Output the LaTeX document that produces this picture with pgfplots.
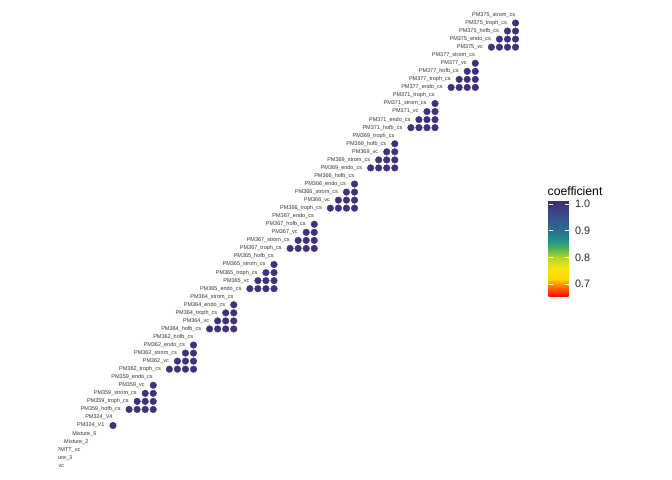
\documentclass[border=0pt]{standalone}
\usepackage{pgfplots}
\pgfplotsset{compat=1.18}
\usepackage{pgfplotstable}
\usepackage{fontspec}
\setmainfont{Liberation Sans}

\pgfplotstableread{
x y label
57 57 PM375\_strom\_cs
56 56 PM375\_troph\_cs
55 55 PM375\_hofb\_cs
54 54 PM375\_endo\_cs
53 53 PM375\_vc
52 52 PM377\_strom\_cs
51 51 PM377\_vc
50 50 PM377\_hofb\_cs
49 49 PM377\_troph\_cs
48 48 PM377\_endo\_cs
47 47 PM371\_troph\_cs
46 46 PM371\_strom\_cs
45 45 PM371\_vc
44 44 PM371\_endo\_cs
43 43 PM371\_hofb\_cs
42 42 PM369\_troph\_cs
41 41 PM369\_hofb\_cs
40 40 PM369\_vc
39 39 PM369\_strom\_cs
38 38 PM369\_endo\_cs
37 37 PM366\_hofb\_cs
36 36 PM366\_endo\_cs
35 35 PM366\_strom\_cs
34 34 PM366\_vc
33 33 PM366\_troph\_cs
32 32 PM367\_endo\_cs
31 31 PM367\_hofb\_cs
30 30 PM367\_vc
29 29 PM367\_strom\_cs
28 28 PM367\_troph\_cs
27 27 PM365\_hofb\_cs
26 26 PM365\_strom\_cs
25 25 PM365\_troph\_cs
24 24 PM365\_vc
23 23 PM365\_endo\_cs
22 22 PM364\_strom\_cs
21 21 PM364\_endo\_cs
20 20 PM364\_troph\_cs
19 19 PM364\_vc
18 18 PM364\_hofb\_cs
17 17 PM362\_hofb\_cs
16 16 PM362\_endo\_cs
15 15 PM362\_strom\_cs
14 14 PM362\_vc
13 13 PM362\_troph\_cs
12 12 PM359\_endo\_cs
11 11 PM359\_vc
10 10 PM359\_strom\_cs
9 9 PM359\_troph\_cs
8 8 PM359\_hofb\_cs
7 7 PM324\_V4
6 6 PM324\_V1
5 5 Mixture\_5
4 4 Mixture\_2
3 3 PMTT\_vc
2 2 Mixture\_3
1 1 vc
}\labels

\pgfplotstableread{
x y c
54 53 1.00
55 53 1.00
56 53 1.00
57 53 1.00
55 54 1.00
56 54 1.00
57 54 1.00
56 55 1.00
57 55 1.00
57 56 1.00
49 48 1.00
50 48 1.00
51 48 1.00
52 48 1.00
50 49 1.00
51 49 1.00
52 49 1.00
51 50 1.00
52 50 1.00
52 51 1.00
44 43 1.00
45 43 1.00
46 43 1.00
47 43 1.00
45 44 1.00
46 44 1.00
47 44 1.00
46 45 1.00
47 45 1.00
47 46 1.00
39 38 1.00
40 38 1.00
41 38 1.00
42 38 1.00
40 39 1.00
41 39 1.00
42 39 1.00
41 40 1.00
42 40 1.00
42 41 1.00
34 33 1.00
35 33 1.00
36 33 1.00
37 33 1.00
35 34 1.00
36 34 1.00
37 34 1.00
36 35 1.00
37 35 1.00
37 36 1.00
29 28 1.00
30 28 1.00
31 28 1.00
32 28 1.00
30 29 1.00
31 29 1.00
32 29 1.00
31 30 1.00
32 30 1.00
32 31 1.00
24 23 1.00
25 23 1.00
26 23 1.00
27 23 1.00
25 24 1.00
26 24 1.00
27 24 1.00
26 25 1.00
27 25 1.00
27 26 1.00
19 18 1.00
20 18 1.00
21 18 1.00
22 18 1.00
20 19 1.00
21 19 1.00
22 19 1.00
21 20 1.00
22 20 1.00
22 21 1.00
14 13 1.00
15 13 1.00
16 13 1.00
17 13 1.00
15 14 1.00
16 14 1.00
17 14 1.00
16 15 1.00
17 15 1.00
17 16 1.00
9 8 1.00
10 8 1.00
11 8 1.00
12 8 1.00
10 9 1.00
11 9 1.00
12 9 1.00
11 10 1.00
12 10 1.00
12 11 1.00
7 6 1.00
}\dots

\begin{document}
\begin{tikzpicture}
\useasboundingbox (-58bp,-5bp) rectangle (614bp,475bp);
\begin{scope}
\clip (0bp,-5bp) rectangle (614bp,475bp);
\begin{axis}[
  at={(0,0)}, anchor=south west,
  scale only axis,
  width=482bp, height=470bp,
  xmin=0.168, xmax=60.04,
  ymin=-0.143, ymax=58.24,
  hide axis,
  colormap={coef}{
    rgb255(0pt)=(255,0,0);
    rgb255(24pt)=(255,70,0);
    rgb255(49pt)=(255,150,0);
    rgb255(69pt)=(255,215,0);
    rgb255(109pt)=(245,230,15);
    rgb255(149pt)=(180,212,45);
    rgb255(179pt)=(85,185,85);
    rgb255(209pt)=(35,150,135);
    rgb255(249pt)=(40,112,142);
    rgb255(299pt)=(55,80,140);
    rgb255(364pt)=(66,40,118)},
  point meta min=0.651, point meta max=1.015,
  colorbar,
  colorbar/width=20bp,
  colorbar style={
    at={(482bp,178bp)}, anchor=south west,
    xshift=0pt, yshift=0pt,
    scale only axis,
    width=20bp, height=97bp,
    ytick={0.7,0.8,0.9,1.0},
    yticklabels={0.7,0.8,0.9,1.0},
    yticklabel style={font=\fontsize{10.8bp}{12bp}\selectfont, text=black!85, xshift=3bp},
    axis line style={draw=none},
    axis on top,
    tick align=inside,
    major tick length=4bp,
    ytick style={draw=white, line width=0.8bp},
    yticklabel pos=right,
    ytick pos=both,
    title={coefficient},
    title style={at={(0,1)}, anchor=base west, yshift=-1bp, xshift=-1bp, inner sep=0pt,
      font=\fontsize{12.2bp}{14bp}\selectfont, text=black},
  },
]
\addplot[draw=none, mark=none, nodes near coords, point meta=explicit symbolic,
  every node near coord/.append style={anchor=east, inner sep=0pt, xshift=-0.3bp,
    font=\fontsize{5.5bp}{6bp}\selectfont, text=black!80}]
  table[x=x, y=y, meta=label] {\labels};
\addplot[scatter, only marks, mark=*, mark size=3.3bp,
  scatter/use mapped color={draw=mapped color, fill=mapped color},
  point meta=explicit]
  table[x=x, y=y, meta=c] {\dots};
\end{axis}
\end{scope}
\end{tikzpicture}
\end{document}
